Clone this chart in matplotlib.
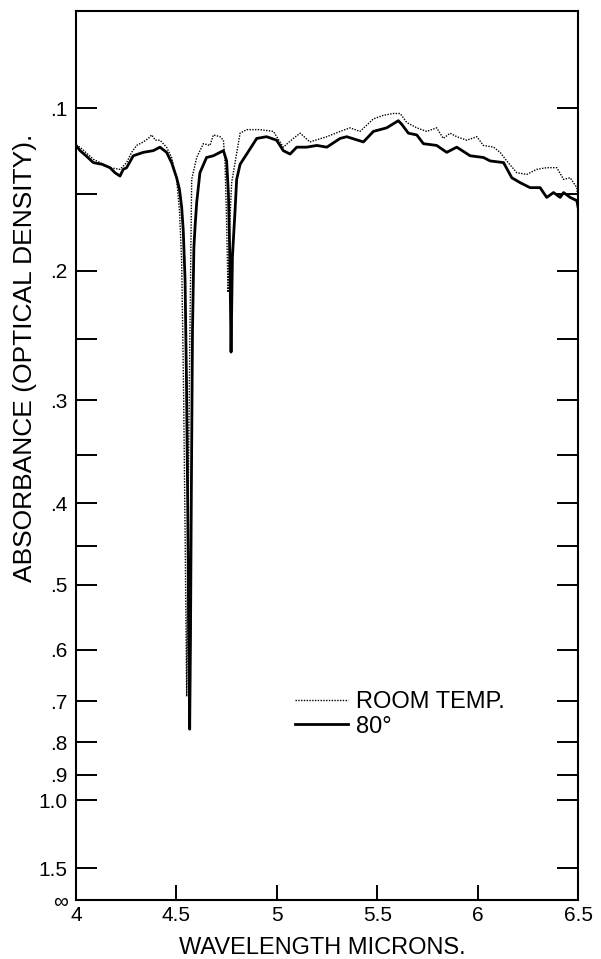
import numpy as np
import matplotlib.pyplot as plt
from matplotlib.ticker import FixedLocator, FixedFormatter

plt.rcParams['font.family'] = ['Liberation Sans', 'DejaVu Sans']

# wavelength (microns) and absorbance
wl_80 = [4.000, 4.020, 4.050, 4.086, 4.130, 4.169, 4.194, 4.219, 4.235, 4.252,
         4.285, 4.335, 4.385, 4.418, 4.451, 4.476, 4.501, 4.515, 4.526, 4.534,
         4.543, 4.550, 4.556, 4.562, 4.566, 4.570, 4.574, 4.580, 4.587, 4.593,
         4.601, 4.617, 4.650, 4.684, 4.717, 4.734, 4.750, 4.759, 4.766, 4.772,
         4.779, 4.792, 4.800, 4.817, 4.850, 4.900, 4.949, 4.999, 5.032, 5.066,
         5.099, 5.149, 5.199, 5.249, 5.315, 5.348, 5.431, 5.481, 5.547, 5.605,
         5.622, 5.655, 5.697, 5.730, 5.796, 5.846, 5.896, 5.963, 6.029, 6.062,
         6.129, 6.170, 6.212, 6.261, 6.311, 6.344, 6.378, 6.411, 6.428, 6.461,
         6.494, 6.500]
abs_80 = [0.121, 0.124, 0.127, 0.131, 0.132, 0.134, 0.137, 0.139, 0.135, 0.134,
          0.127, 0.125, 0.124, 0.122, 0.125, 0.131, 0.140, 0.147, 0.158, 0.173,
          0.206, 0.283, 0.397, 0.601, 0.766, 0.580, 0.397, 0.243, 0.184, 0.170,
          0.155, 0.137, 0.128, 0.127, 0.125, 0.124, 0.130, 0.150, 0.190, 0.260,
          0.190, 0.160, 0.141, 0.132, 0.126, 0.117, 0.116, 0.118, 0.124, 0.126,
          0.122, 0.122, 0.121, 0.122, 0.117, 0.116, 0.119, 0.113, 0.111, 0.107,
          0.109, 0.114, 0.115, 0.120, 0.121, 0.125, 0.122, 0.127, 0.128, 0.130,
          0.131, 0.140, 0.143, 0.146, 0.146, 0.152, 0.149, 0.152, 0.149, 0.152,
          0.154, 0.158]

wl_room = [4.000, 4.020, 4.086, 4.169, 4.219, 4.252, 4.277, 4.302, 4.335, 4.360,
           4.377, 4.395, 4.418, 4.451, 4.476, 4.501, 4.515, 4.526, 4.535, 4.543,
           4.551, 4.558, 4.566, 4.576, 4.601, 4.634, 4.667, 4.684, 4.717, 4.734,
           4.742, 4.750, 4.757, 4.765, 4.775, 4.792, 4.817, 4.850, 4.916, 4.983,
           5.032, 5.082, 5.116, 5.165, 5.249, 5.315, 5.365, 5.414, 5.481, 5.531,
           5.580, 5.614, 5.647, 5.697, 5.746, 5.796, 5.829, 5.863, 5.896, 5.946,
           5.996, 6.029, 6.079, 6.112, 6.145, 6.195, 6.245, 6.294, 6.344, 6.394,
           6.428, 6.461, 6.494, 6.500]
abs_room = [0.121, 0.122, 0.129, 0.134, 0.135, 0.131, 0.125, 0.121, 0.119, 0.117,
            0.115, 0.118, 0.118, 0.122, 0.128, 0.141, 0.160, 0.193, 0.283, 0.430,
            0.690, 0.420, 0.260, 0.141, 0.128, 0.120, 0.121, 0.115, 0.116, 0.118,
            0.131, 0.168, 0.215, 0.170, 0.143, 0.131, 0.114, 0.112, 0.112, 0.113,
            0.122, 0.117, 0.114, 0.119, 0.116, 0.113, 0.111, 0.113, 0.106, 0.104,
            0.103, 0.103, 0.108, 0.111, 0.113, 0.111, 0.117, 0.114, 0.116, 0.118,
            0.116, 0.121, 0.122, 0.125, 0.130, 0.137, 0.138, 0.135, 0.134, 0.134,
            0.141, 0.140, 0.146, 0.154]

y_ticks = [0.1, 0.2, 0.3, 0.4, 0.5, 0.6, 0.7, 0.8, 0.9, 1.0, 1.5, 10.0]
y_labels = ['.1', '.2', '.3', '.4', '.5', '.6', '.7', '.8', '.9', '1.0', '1.5', '∞']
y_minor = [0.15, 0.25, 0.35, 0.45]
x_ticks = [4, 4.5, 5, 5.5, 6, 6.5]
x_labels = ['4', '4.5', '5', '5.5', '6', '6.5']


# chart paper is linear in transmittance, labelled in absorbance
def to_trans(a):
    return 10.0 ** (-np.asarray(a, dtype=float))


def to_abs(t):
    return -np.log10(np.clip(np.asarray(t, dtype=float), 1e-12, None))


fig = plt.figure(figsize=(6.01, 9.59), dpi=100)
ax = fig.add_axes([0.1265, 0.0615, 0.8353, 0.9266])
ax.set_yscale('function', functions=(to_trans, to_abs))

ax.plot(wl_room, abs_room, color='black', linestyle=(0, (1, 1)), linewidth=1.0,
        label='ROOM TEMP.')
ax.plot(wl_80, abs_80, color='black', linewidth=2.0, label='80°')

ax.set_xlim(4, 6.5)
ax.set_ylim(0.05, 10.0)

ax.xaxis.set_major_locator(FixedLocator(x_ticks))
ax.xaxis.set_major_formatter(FixedFormatter(x_labels))
ax.yaxis.set_major_locator(FixedLocator(y_ticks))
ax.yaxis.set_major_formatter(FixedFormatter(y_labels))
ax.yaxis.set_minor_locator(FixedLocator(y_minor))
ax.yaxis.set_minor_formatter(FixedFormatter([''] * len(y_minor)))

ax.tick_params(axis='y', which='both', direction='in', length=15, width=1.4,
               left=True, right=True, labelsize=15, pad=6)
ax.tick_params(axis='x', which='major', direction='in', length=11, width=1.4,
               top=False, labelsize=15, pad=4)
for s in ax.spines.values():
    s.set_linewidth(1.5)

ax.set_xlabel('WAVELENGTH MICRONS.', fontsize=17, labelpad=2)
ax.xaxis.set_label_coords(0.49, -0.042)
fig.text(0.042, 0.627, 'ABSORBANCE (OPTICAL DENSITY).', rotation=90,
         fontsize=19, ha='center', va='center')

ax.legend(loc='upper left', bbox_to_anchor=(0.436, 0.235), frameon=False,
          fontsize=17, handlelength=2.25, handletextpad=0.35, labelspacing=0.1,
          borderpad=0, borderaxespad=0)

fig.savefig('out.png', dpi=100)
